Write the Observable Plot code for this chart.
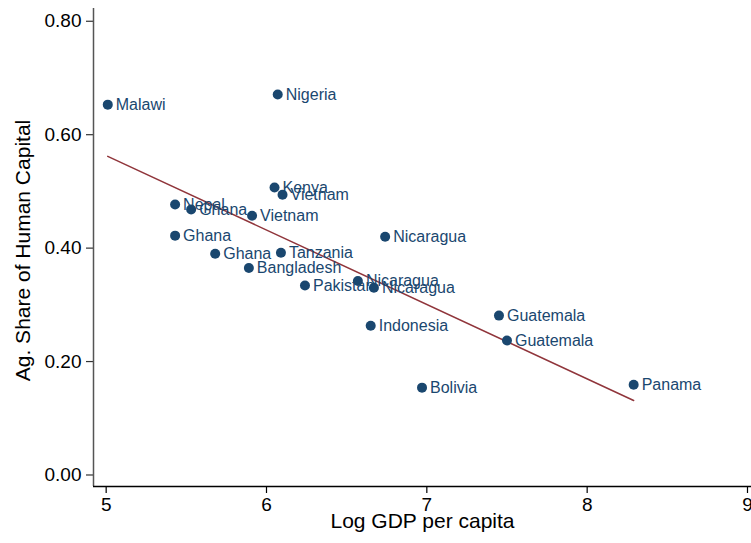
<!DOCTYPE html>
<html>
<head>
<meta charset="utf-8">
<script src="https://cdn.jsdelivr.net/npm/d3@7"></script>
<script src="https://cdn.jsdelivr.net/npm/@observablehq/plot@0.6"></script>
<style>
  html, body { margin: 0; padding: 0; background: #fff; }
  svg g[aria-label="x-axis tick label"], svg g[aria-label="y-axis tick label"] { font-size: 19px; }
</style>
</head>
<body>
<div id="chart"></div>
<script>
const countries = ["Malawi","Nigeria","Kenya","Vietnam","Nepal","Ghana","Vietnam","Ghana","Nicaragua","Ghana","Tanzania","Bangladesh","Pakistan","Nicaragua","Nicaragua","Indonesia","Guatemala","Guatemala","Bolivia","Panama"];
const logGdp = [5.01,6.07,6.05,6.10,5.43,5.53,5.91,5.43,6.74,5.68,6.09,5.89,6.24,6.57,6.67,6.65,7.45,7.50,6.97,8.29];
const agShare = [0.653,0.671,0.507,0.494,0.477,0.468,0.457,0.422,0.420,0.390,0.392,0.365,0.334,0.342,0.330,0.263,0.281,0.237,0.154,0.159];
const xTicks = [5,6,7,8,9];
const yTicks = [0,0.2,0.4,0.6,0.8];
const xTitle = "Log GDP per capita";
const yTitle = "Ag. Share of Human Capital";

const data = countries.map((c,i) => ({country: c, x: logGdp[i], y: agShare[i]}));
const xDomain = [4.921, 9.025];
const yDomain = [-0.0203, 0.8225];
const navy = "#1a476f";
const maroon = "#90353b";

const chart = Plot.plot({
  width: 751,
  height: 543,
  marginLeft: 93,
  marginRight: 0,
  marginTop: 8,
  marginBottom: 57,
  style: {fontFamily: "'Liberation Sans', Arial, Helvetica, sans-serif", fontSize: "19px", color: "#000", background: "#fff"},
  x: {domain: xDomain},
  y: {domain: yDomain},
  marks: [
    Plot.axisX({ticks: xTicks, tickSize: 7, tickPadding: 4, tickFormat: d3.format("d"), label: null, stroke: "#000", strokeWidth: 1.2}),
    Plot.axisY({ticks: yTicks, tickSize: 7, tickPadding: 5, tickFormat: d3.format(".2f"), label: null, stroke: "#333", strokeWidth: 1.2}),
    Plot.ruleX([xDomain[0]], {stroke: "#555", strokeWidth: 1.5}),
    Plot.ruleY([yDomain[0]], {stroke: "#000", strokeWidth: 1.5}),
    Plot.linearRegressionY(data, {x: "x", y: "y", stroke: maroon, strokeWidth: 1.5, ci: 0}),
    Plot.dot(data, {x: "x", y: "y", r: 5, fill: navy, stroke: null}),
    Plot.text(data, {x: "x", y: "y", text: "country", dx: 8, textAnchor: "start", fill: navy, fontSize: 16}),
    Plot.text([xTitle], {frameAnchor: "bottom", dy: 41, fontSize: 21, fill: "#000"}),
    Plot.text([yTitle], {frameAnchor: "left", textAnchor: "middle", rotate: -90, dx: -70, dy: 3, fontSize: 21, fill: "#000"})
  ]
});
document.getElementById("chart").appendChild(chart);
</script>
</body>
</html>
